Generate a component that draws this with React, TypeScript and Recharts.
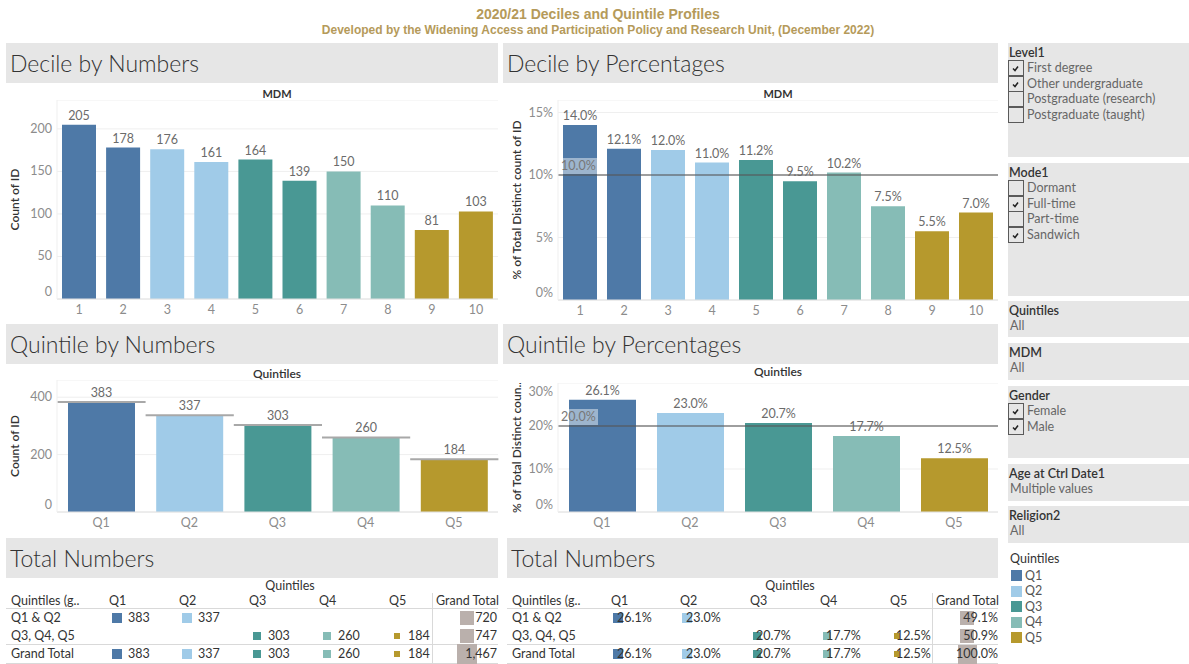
import React from "react";
import { BarChart, Bar, XAxis, YAxis, CartesianGrid, LabelList, ReferenceLine, Cell } from "recharts";

const FONT = "Lato, 'Open Sans', sans-serif";
const TITLE_FONT = "'Liberation Sans', Arial, sans-serif";

const QUINTILES = ["Q1", "Q2", "Q3", "Q4", "Q5"];
const QUINTILE_COLORS = ["#4e79a7", "#a0cbe8", "#499894", "#86bcb6", "#b6992d"];
const QUINTILE_COUNTS = [383, 337, 303, 260, 184];
const QUINTILE_PCTS = [26.1, 23.0, 20.7, 17.7, 12.5];

const DECILES = ["1", "2", "3", "4", "5", "6", "7", "8", "9", "10"];
const DECILE_COUNTS = [205, 178, 176, 161, 164, 139, 150, 110, 81, 103];
const DECILE_PCTS = [14.0, 12.1, 12.0, 11.0, 11.2, 9.5, 10.2, 7.5, 5.5, 7.0];
const DECILE_QUINTILE = [0, 0, 1, 1, 2, 2, 3, 3, 4, 4];

const GROUPS = ["Q1 & Q2", "Q3, Q4, Q5"];
const GROUP_MEMBERS = [[0, 1], [2, 3, 4]];
const GROUP_COUNTS = [720, 747];
const GROUP_PCTS = [49.1, 50.9];
const GRAND_COUNT = 1467;
const GRAND_PCT = 100.0;

const DECILE_COUNT_TICKS = [0, 50, 100, 150, 200];
const DECILE_PCT_TICKS = [0, 5, 10, 15];
const QUINTILE_COUNT_TICKS = [0, 200, 400];
const QUINTILE_PCT_TICKS = [0, 10, 20, 30];
const DECILE_AVG_PCT = 10;
const QUINTILE_AVG_PCT = 20;

const LEVEL_OPTIONS = ["First degree", "Other undergraduate", "Postgraduate (research)", "Postgraduate (taught)"];
const LEVEL_CHECKED = [true, true, false, false];
const MODE_OPTIONS = ["Dormant", "Full-time", "Part-time", "Sandwich"];
const MODE_CHECKED = [false, true, false, true];
const GENDER_OPTIONS = ["Female", "Male"];
const GENDER_CHECKED = [true, true];

const fmtCount = (v: number) => v.toLocaleString("en-US");
const fmtPct = (v: number) => `${v.toFixed(1)}%`;
const fmtPctTick = (v: number) => `${v}%`;

const YTick = ({ x, y, payload, fmt }: any) => (
  <text
    x={x}
    y={payload.value === 0 ? y - 7 : y}
    dy={4}
    textAnchor="end"
    fill="#8c8c8c"
    fontSize={12.5}
    fontFamily={FONT}
  >
    {fmt(payload.value)}
  </text>
);

const RefLabel = ({ viewBox, text }: any) => {
  const { x, y } = viewBox;
  return (
    <g>
      <rect x={x + 2} y={y - 17} width={38} height={16} fill="#ffffff" fillOpacity={0.45} />
      <text x={x + 3} y={y - 5} fill="#777" fontSize={12.5} fontFamily={FONT}>
        {text}
      </text>
    </g>
  );
};

const QUINTILE_BAND = 441 / QUINTILES.length;

// bar plus the per-cell reference line across the whole band
const BarWithLine = (props: any) => {
  const { x, y, width, height, fill } = props;
  const ext = (QUINTILE_BAND - width) / 2;
  return (
    <g>
      <rect x={x} y={y} width={width} height={height} fill={fill} />
      <line x1={x - ext} x2={x + width + ext} y1={y} y2={y} stroke="#a8a8a8" strokeWidth={2} />
    </g>
  );
};

function ColumnChart({
  categories, values, colors, ticks, domain, tickFmt, labelFmt, axisTitle, titleOffset,
  height, xAxisHeight, yAxisWidth, barSize, refValue, withCellLines,
}: any) {
  const data = categories.map((c: string, i: number) => ({ cat: c, value: values[i] }));
  return (
    <BarChart width={500} height={height} data={data} margin={{ top: 0, right: 2, bottom: 0, left: 0 }}>
      <CartesianGrid vertical={false} stroke="#efefef" />
      <XAxis
        dataKey="cat"
        height={xAxisHeight}
        interval={0}
        tickLine={false}
        tickSize={4}
        axisLine={{ stroke: "#e2e2e2" }}
        tick={{ fill: "#8c8c8c", fontSize: 12.5, fontFamily: FONT }}
      />
      <YAxis
        width={yAxisWidth}
        domain={domain}
        ticks={ticks}
        allowDataOverflow
        tickLine={false}
        tickSize={3}
        axisLine={{ stroke: "#efefef" }}
        tick={<YTick fmt={tickFmt} />}
        label={{
          value: axisTitle,
          angle: -90,
          position: "insideLeft",
          offset: titleOffset,
          style: { textAnchor: "middle", fill: "#333", fontSize: 12, fontWeight: 600, fontFamily: FONT },
        }}
      />
      <Bar
        dataKey="value"
        barSize={barSize}
        isAnimationActive={false}
        shape={withCellLines ? BarWithLine : undefined}
      >
        {data.map((d: any, i: number) => (
          <Cell key={d.cat} fill={colors[i]} />
        ))}
        <LabelList dataKey="value" position="top" formatter={labelFmt} fill="#6b6b6b" fontSize={12.5} fontFamily={FONT} />
      </Bar>
      {refValue != null && (
        <ReferenceLine
          y={refValue}
          stroke="#555"
          strokeOpacity={0.55}
          strokeWidth={2}
          label={<RefLabel text={fmtPct(refValue)} />}
        />
      )}
    </BarChart>
  );
}

function Header({ x, y, w, text }: any) {
  return (
    <div
      style={{
        position: "absolute", left: x, top: y, width: w, height: 40, background: "#e6e6e6",
        fontFamily: FONT, fontSize: 23, fontWeight: 300, color: "#333", lineHeight: "41px", paddingLeft: 4,
        boxSizing: "border-box", whiteSpace: "nowrap",
      }}
    >
      {text}
    </div>
  );
}

function Txt({ x, y, children, size = 12.5, color = "#333", weight = 400, anchor = "left", font = FONT }: any) {
  const tr = anchor === "center" ? "translate(-50%,-50%)" : anchor === "right" ? "translate(-100%,-50%)" : "translate(0,-50%)";
  return (
    <div
      style={{
        position: "absolute", left: x, top: y, transform: tr, fontFamily: font, fontSize: size,
        color, fontWeight: weight, whiteSpace: "nowrap", lineHeight: 1,
      }}
    >
      {children}
    </div>
  );
}

function Square({ cx, cy, side, color }: any) {
  return (
    <div style={{ position: "absolute", left: cx - side / 2, top: cy - side / 2, width: side, height: side, background: color }} />
  );
}

function Line({ x1, y1, x2, y2 }: any) {
  return (
    <div style={{ position: "absolute", left: x1, top: y1, width: Math.max(1, x2 - x1), height: Math.max(1, y2 - y1), background: "#d9d9d9" }} />
  );
}

function TotalsTable({ cfg, values, groupValues, grandValue, fmt, size }: any) {
  const rowsY = [618, 636, 654];
  const cells: any[] = [];
  GROUP_MEMBERS.forEach((members, r) => {
    members.forEach((q) => cells.push({ r, q, v: values[q] }));
  });
  QUINTILES.forEach((_, q) => cells.push({ r: 2, q, v: values[q] }));
  const totals = [...groupValues, grandValue];
  return (
    <>
      <Txt x={cfg.titleX} y={586} anchor="center">Quintiles</Txt>
      <Txt x={cfg.labelX} y={601}>Quintiles (g..</Txt>
      {QUINTILES.map((q, i) => (
        <Txt key={q} x={cfg.colX[i]} y={601}>{q}</Txt>
      ))}
      <Txt x={cfg.gtX} y={601}>Grand Total</Txt>
      <Line x1={cfg.lineL} y1={608} x2={cfg.lineR} y2={609} />
      <Line x1={cfg.lineL} y1={644} x2={cfg.lineR} y2={645} />
      <Line x1={cfg.lineL} y1={663} x2={cfg.lineR} y2={664} />
      <Line x1={cfg.vline} y1={593} x2={cfg.vline + 1} y2={664} />
      {[...GROUPS, "Grand Total"].map((g, r) => (
        <Txt key={g} x={cfg.labelX} y={rowsY[r]}>{g}</Txt>
      ))}
      {cells.map((c, i) => (
        <React.Fragment key={i}>
          <Square cx={cfg.colX[c.q] + cfg.sqDx} cy={rowsY[c.r]} side={size(c.v)} color={QUINTILE_COLORS[c.q]} />
          <Txt x={cfg.colX[c.q] + cfg.textDx} y={rowsY[c.r]}>{fmt(c.v)}</Txt>
        </React.Fragment>
      ))}
      {totals.map((v, r) => (
        <React.Fragment key={r}>
          <Square cx={cfg.gtSqX} cy={rowsY[r]} side={size(v)} color="#bab0ac" />
          <Txt x={cfg.gtRight} y={rowsY[r]} anchor="right">{fmt(v)}</Txt>
        </React.Fragment>
      ))}
    </>
  );
}

function CheckBox({ x, y, checked }: any) {
  return (
    <div style={{ position: "absolute", left: x, top: y, width: 16, height: 16, border: "1px solid #5a5a5a", boxSizing: "border-box", background: "#e6e6e6" }}>
      {checked && (
        <svg width={14} height={14} style={{ position: "absolute", left: 0, top: 0 }}>
          <path d="M4 7.5 L6 9.5 L9 5.5" stroke="#222" strokeWidth={1.5} fill="none" />
        </svg>
      )}
    </div>
  );
}

function Filter({ top, height, title, options, checked, value }: any) {
  return (
    <div style={{ position: "absolute", left: 1008, top, width: 181, height, background: "#e6e6e6" }}>
      <Txt x={1} y={10} weight={600}>{title}</Txt>
      {options &&
        options.map((o: string, i: number) => (
          <React.Fragment key={o}>
            <CheckBox x={0} y={17 + i * 15.6} checked={checked[i]} />
            <Txt x={19} y={25 + i * 15.6} color="#666">{o}</Txt>
          </React.Fragment>
        ))}
      {value && <Txt x={2} y={25} color="#666">{value}</Txt>}
    </div>
  );
}

export default function App() {
  const decileColors = DECILE_QUINTILE.map((q) => QUINTILE_COLORS[q]);
  return (
    <div style={{ position: "absolute", left: 0, top: 0, width: 1189, height: 664, background: "#fff", overflow: "hidden", fontFamily: FONT }}>
      <Txt x={598} y={14} anchor="center" font={TITLE_FONT} size={14} weight={700} color="#b59a5a">
        2020/21 Deciles and Quintile Profiles
      </Txt>
      <Txt x={598} y={30} anchor="center" font={TITLE_FONT} size={12} weight={700} color="#b59a5a">
        Developed by the Widening Access and Participation Policy and Research Unit, (December 2022)
      </Txt>

      <Header x={6} y={43} w={492} text="Decile by Numbers" />
      <Header x={503} y={43} w={495} text="Decile by Percentages" />
      <Header x={6} y={324} w={492} text="Quintile by Numbers" />
      <Header x={503} y={324} w={495} text="Quintile by Percentages" />
      <Header x={6} y={538} w={492} text="Total Numbers" />
      <Header x={507} y={538} w={491} text="Total Numbers" />

      <Txt x={277} y={93} anchor="center" weight={700} size={11}>MDM</Txt>
      <Txt x={778} y={93} anchor="center" weight={700} size={11}>MDM</Txt>
      <Txt x={277} y={374} anchor="center" weight={600} size={12}>Quintiles</Txt>
      <Txt x={778} y={372} anchor="center" weight={600} size={12}>Quintiles</Txt>

      <div style={{ position: "absolute", left: 0, top: 100 }}>
        <ColumnChart
          categories={DECILES} values={DECILE_COUNTS} colors={decileColors}
          ticks={DECILE_COUNT_TICKS} domain={[0, 234]} tickFmt={fmtCount} labelFmt={fmtCount}
          axisTitle="Count of ID" titleOffset={15} height={220} xAxisHeight={21} yAxisWidth={57} barSize={34}
        />
      </div>
      <div style={{ position: "absolute", left: 500, top: 100 }}>
        <ColumnChart
          categories={DECILES} values={DECILE_PCTS} colors={decileColors}
          ticks={DECILE_PCT_TICKS} domain={[0, 16]} tickFmt={fmtPctTick} labelFmt={fmtPct}
          axisTitle="% of Total Distinct count of ID" titleOffset={17} height={220} xAxisHeight={20} yAxisWidth={58} barSize={34}
          refValue={DECILE_AVG_PCT}
        />
      </div>
      <div style={{ position: "absolute", left: 0, top: 380 }}>
        <ColumnChart
          categories={QUINTILES} values={QUINTILE_COUNTS} colors={QUINTILE_COLORS}
          ticks={QUINTILE_COUNT_TICKS} domain={[0, 460]} tickFmt={fmtCount} labelFmt={fmtCount}
          axisTitle="Count of ID" titleOffset={15} height={160} xAxisHeight={28} yAxisWidth={57} barSize={67}
          withCellLines
        />
      </div>
      <div style={{ position: "absolute", left: 500, top: 383 }}>
        <ColumnChart
          categories={QUINTILES} values={QUINTILE_PCTS} colors={QUINTILE_COLORS}
          ticks={QUINTILE_PCT_TICKS} domain={[0, 30]} tickFmt={fmtPctTick} labelFmt={fmtPct}
          axisTitle="% of Total Distinct coun.." titleOffset={17} height={157} xAxisHeight={28} yAxisWidth={58} barSize={67}
          refValue={QUINTILE_AVG_PCT}
        />
      </div>

      <TotalsTable
        cfg={{ titleX: 290, labelX: 11, colX: [109, 179, 249, 319, 389], sqDx: 8, textDx: 19, gtX: 436, gtSqX: 467, gtRight: 497, lineL: 6, lineR: 498, vline: 432 }}
        values={QUINTILE_COUNTS} groupValues={GROUP_COUNTS} grandValue={GRAND_COUNT}
        fmt={fmtCount} size={(v: number) => 0.51 * Math.sqrt(v)}
      />
      <TotalsTable
        cfg={{ titleX: 790, labelX: 512, colX: [611, 680, 750, 820, 890], sqDx: 7, textDx: 6, gtX: 936, gtSqX: 967, gtRight: 998, lineL: 507, lineR: 998, vline: 932 }}
        values={QUINTILE_PCTS} groupValues={GROUP_PCTS} grandValue={GRAND_PCT}
        fmt={fmtPct} size={(v: number) => 1.9 * Math.sqrt(v)}
      />

      <Filter top={43} height={114} title="Level1" options={LEVEL_OPTIONS} checked={LEVEL_CHECKED} />
      <Filter top={163} height={133} title="Mode1" options={MODE_OPTIONS} checked={MODE_CHECKED} />
      <Filter top={301} height={36} title="Quintiles" value="All" />
      <Filter top={343} height={37} title="MDM" value="All" />
      <Filter top={386} height={72} title="Gender" options={GENDER_OPTIONS} checked={GENDER_CHECKED} />
      <Filter top={464} height={37} title="Age at Ctrl Date1" value="Multiple values" />
      <Filter top={506} height={37} title="Religion2" value="All" />

      <Txt x={1010} y={559}>Quintiles</Txt>
      {QUINTILES.map((q, i) => (
        <React.Fragment key={q}>
          <div style={{ position: "absolute", left: 1011, top: 570 + i * 15.5, width: 11, height: 11, background: QUINTILE_COLORS[i] }} />
          <Txt x={1025} y={575.5 + i * 15.5} color="#555">{q}</Txt>
        </React.Fragment>
      ))}
    </div>
  );
}
